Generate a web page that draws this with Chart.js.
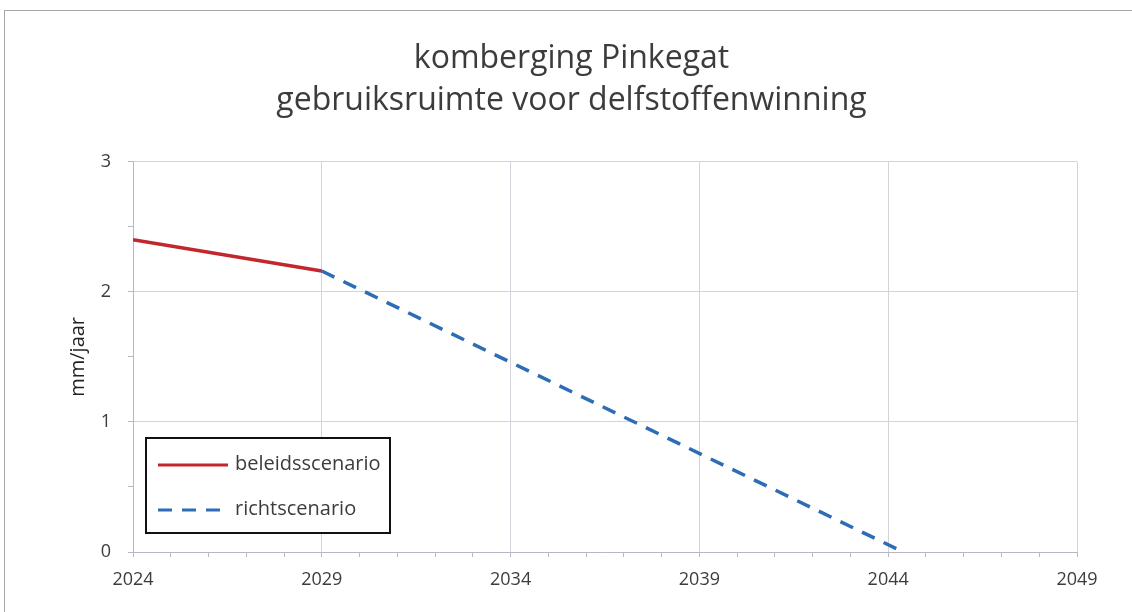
<!DOCTYPE html>
<html lang="nl">
<head>
<meta charset="UTF-8">
<title>komberging Pinkegat</title>
<script src="https://cdn.jsdelivr.net/npm/chart.js"></script>
<style>
    html, body { margin: 0; padding: 0; background: #fff; }
    #wrap { position: relative; width: 1132px; height: 612px; overflow: hidden; }
    #frame { position: absolute; left: 4px; top: 10px; width: 1140px; height: 620px; border: 1px solid #a8a8a8; box-sizing: border-box; pointer-events: none; }
    canvas { position: absolute; left: 0; top: 0; }
</style>
</head>
<body>
<div id="wrap">
    <canvas id="myChart" width="1132" height="612"></canvas>
    <div id="frame"></div>
</div>
<script>
// data
const titleLines = ['komberging Pinkegat', 'gebruiksruimte voor delfstoffenwinning'];
const yTitle = 'mm/jaar';
const seriesNames = ['beleidsscenario', 'richtscenario'];
const beleidYears = [2024, 2029];
const beleidValues = [2.40, 2.16];
const richtYears = [2029, 2044.4];
const richtValues = [2.16, 0];
const xMin = 2024, xMax = 2049, xStep = 5;
const yMin = 0, yMax = 3;

const red = '#c1272d';
const blue = '#2d6db5';
const gridCol = '#d3d3dc';
const txtCol = '#3c3c3c';
const fontFam = "'Open Sans', 'Noto Sans', sans-serif";

function pts(xs, ys) {
    return xs.map((x, i) => ({ x: x, y: ys[i] }));
}

// legend box inside the plot, lower left
const boxLegend = {
    id: 'boxLegend',
    afterDraw(chart) {
        const ctx = chart.ctx;
        const a = chart.chartArea;
        const x0 = a.left + 13, y0 = a.bottom - 114, w = 244, h = 95;
        ctx.save();
        ctx.fillStyle = '#fff';
        ctx.fillRect(x0, y0, w, h);
        ctx.strokeStyle = '#111';
        ctx.lineWidth = 2;
        ctx.strokeRect(x0, y0, w, h);
        ctx.font = '20px ' + fontFam;
        ctx.textBaseline = 'middle';
        chart.data.datasets.forEach((ds, i) => {
            const yy = y0 + 27 + i * 45;
            ctx.beginPath();
            ctx.strokeStyle = ds.borderColor;
            ctx.lineWidth = 3;
            ctx.setLineDash(ds.borderDash || []);
            ctx.moveTo(x0 + 12, yy);
            ctx.lineTo(x0 + 82, yy);
            ctx.stroke();
            ctx.setLineDash([]);
            ctx.fillStyle = txtCol;
            ctx.fillText(ds.label, x0 + 89, yy - 1);
        });
        ctx.restore();
    }
};

new Chart(document.getElementById('myChart'), {
    type: 'scatter',
    data: {
        datasets: [
            {
                label: seriesNames[0],
                data: pts(beleidYears, beleidValues),
                showLine: true,
                borderColor: red,
                borderWidth: 3.5,
                pointRadius: 0
            },
            {
                label: seriesNames[1],
                data: pts(richtYears, richtValues),
                showLine: true,
                borderColor: blue,
                borderWidth: 3.5,
                borderDash: [14, 10],
                pointRadius: 0
            }
        ]
    },
    plugins: [boxLegend],
    options: {
        responsive: false,
        animation: false,
        layout: { padding: { left: 66, right: 55, top: 0, bottom: 0 } },
        plugins: {
            legend: { display: false },
            tooltip: { enabled: false },
            title: {
                display: true,
                text: titleLines,
                color: txtCol,
                font: { family: fontFam, size: 32, weight: 'normal', lineHeight: 1.34 },
                padding: { top: 37, bottom: 39 }
            }
        },
        scales: {
            x: {
                type: 'linear',
                min: xMin,
                max: xMax,
                afterFit(s) { s.height = 60; },
                afterBuildTicks(s) {
                    const t = [];
                    for (let v = xMin; v <= xMax; v++) t.push({ value: v });
                    s.ticks = t;
                },
                border: { color: '#b8b8c4', width: 1 },
                grid: {
                    color: c => ((c.tick.value - xMin) % xStep === 0) ? gridCol : 'rgba(0,0,0,0)',
                    tickColor: '#b8b8c4',
                    tickLength: 5
                },
                ticks: {
                    autoSkip: false,
                    maxRotation: 0,
                    color: txtCol,
                    font: { family: fontFam, size: 18 },
                    padding: 12,
                    callback: v => ((v - xMin) % xStep === 0) ? String(v) : ''
                }
            },
            y: {
                min: yMin,
                max: yMax,
                afterFit(s) { s.width = 67; },
                afterBuildTicks(s) {
                    const t = [];
                    for (let v = yMin; v <= yMax + 1e-9; v += 0.5) t.push({ value: v });
                    s.ticks = t;
                },
                border: { color: '#b8b8c4', width: 1 },
                grid: {
                    color: c => (Number.isInteger(c.tick.value)) ? gridCol : 'rgba(0,0,0,0)',
                    tickColor: '#b8b8c4',
                    tickLength: 5
                },
                ticks: {
                    color: txtCol,
                    font: { family: fontFam, size: 18 },
                    padding: 17,
                    callback: v => Number.isInteger(v) ? String(v) : ''
                },
                title: {
                    display: true,
                    text: yTitle,
                    color: '#222',
                    font: { family: fontFam, size: 20 },
                    padding: 0
                }
            }
        }
    }
});
</script>
</body>
</html>
